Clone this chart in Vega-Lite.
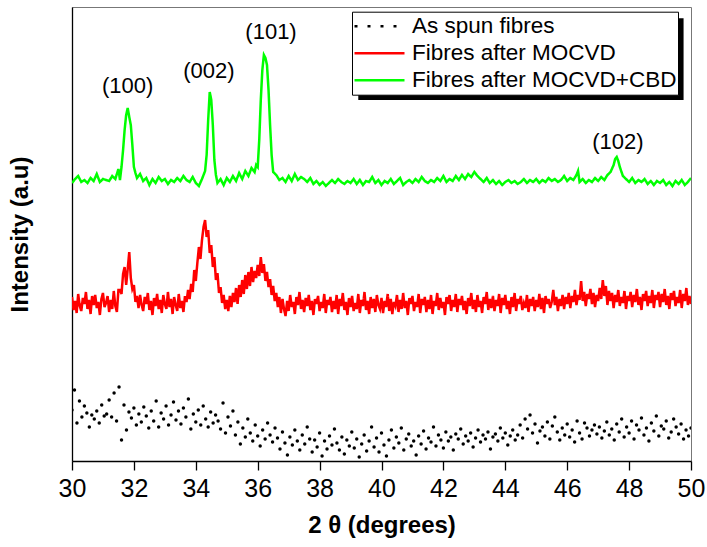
{
"$schema":"https://vega.github.io/schema/vega-lite/v6.json",
"width":619,"height":454,
"autosize":{"type":"none"},
"padding":{"left":72,"top":7,"right":16,"bottom":86},
"background":"white",
"config":{"view":{"stroke":"#777","strokeWidth":1},"font":"Liberation Sans",
"axis":{"labelFont":"Liberation Sans","titleFont":"Liberation Sans","domainColor":"#000","tickColor":"#000","labelColor":"#000","titleColor":"#000","grid":false,"domainWidth":1.3,"tickWidth":1.3}},
"datasets":{
"g":[{"x":30.0,"y":302},{"x":30.1,"y":306},{"x":30.2,"y":309},{"x":30.3,"y":303},{"x":30.4,"y":305},{"x":30.5,"y":302},{"x":30.6,"y":307},{"x":30.7,"y":304},{"x":30.8,"y":311},{"x":30.9,"y":303},{"x":31.0,"y":306},{"x":31.1,"y":305},{"x":31.2,"y":304},{"x":31.3,"y":309},{"x":31.4,"y":306},{"x":31.5,"y":316},{"x":31.55,"y":305},{"x":31.6,"y":318},{"x":31.65,"y":335},{"x":31.7,"y":355},{"x":31.75,"y":370},{"x":31.8,"y":377},{"x":31.85,"y":368},{"x":31.9,"y":360},{"x":31.95,"y":340},{"x":32.0,"y":318},{"x":32.05,"y":312},{"x":32.1,"y":307},{"x":32.2,"y":311},{"x":32.3,"y":304},{"x":32.4,"y":307},{"x":32.5,"y":300},{"x":32.6,"y":306},{"x":32.7,"y":302},{"x":32.8,"y":308},{"x":32.9,"y":304},{"x":33.0,"y":306},{"x":33.1,"y":301},{"x":33.2,"y":305},{"x":33.3,"y":303},{"x":33.4,"y":307},{"x":33.5,"y":304},{"x":33.6,"y":309},{"x":33.7,"y":305},{"x":33.8,"y":303},{"x":33.9,"y":308},{"x":34.0,"y":302},{"x":34.1,"y":299},{"x":34.2,"y":306},{"x":34.3,"y":314},{"x":34.35,"y":330},{"x":34.4,"y":365},{"x":34.45,"y":393},{"x":34.5,"y":385},{"x":34.55,"y":360},{"x":34.6,"y":325},{"x":34.65,"y":310},{"x":34.7,"y":302},{"x":34.8,"y":306},{"x":34.9,"y":300},{"x":35.0,"y":307},{"x":35.1,"y":303},{"x":35.2,"y":309},{"x":35.3,"y":304},{"x":35.4,"y":312},{"x":35.5,"y":306},{"x":35.6,"y":314},{"x":35.7,"y":309},{"x":35.8,"y":317},{"x":35.9,"y":313},{"x":35.95,"y":320},{"x":36.0,"y":318},{"x":36.05,"y":345},{"x":36.1,"y":385},{"x":36.15,"y":415},{"x":36.2,"y":430},{"x":36.25,"y":427},{"x":36.3,"y":420},{"x":36.35,"y":395},{"x":36.4,"y":360},{"x":36.45,"y":330},{"x":36.5,"y":313},{"x":36.6,"y":310},{"x":36.7,"y":305},{"x":36.8,"y":307},{"x":36.9,"y":303},{"x":37.0,"y":309},{"x":37.1,"y":304},{"x":37.2,"y":311},{"x":37.3,"y":305},{"x":37.4,"y":308},{"x":37.5,"y":306},{"x":37.6,"y":303},{"x":37.7,"y":307},{"x":37.8,"y":301},{"x":37.9,"y":304},{"x":38.0,"y":300},{"x":38.1,"y":303},{"x":38.2,"y":299},{"x":38.3,"y":302},{"x":38.4,"y":305},{"x":38.5,"y":302},{"x":38.6,"y":306},{"x":38.7,"y":303},{"x":38.8,"y":301},{"x":38.9,"y":304},{"x":39.0,"y":302},{"x":39.1,"y":306},{"x":39.2,"y":301},{"x":39.3,"y":305},{"x":39.4,"y":300},{"x":39.5,"y":304},{"x":39.6,"y":303},{"x":39.7,"y":308},{"x":39.8,"y":302},{"x":39.9,"y":305},{"x":40.0,"y":300},{"x":40.1,"y":304},{"x":40.2,"y":302},{"x":40.3,"y":306},{"x":40.4,"y":301},{"x":40.5,"y":304},{"x":40.6,"y":307},{"x":40.7,"y":300},{"x":40.8,"y":303},{"x":40.9,"y":305},{"x":41.0,"y":302},{"x":41.1,"y":306},{"x":41.2,"y":303},{"x":41.3,"y":308},{"x":41.4,"y":304},{"x":41.5,"y":302},{"x":41.6,"y":305},{"x":41.7,"y":303},{"x":41.8,"y":307},{"x":41.9,"y":304},{"x":42.0,"y":309},{"x":42.1,"y":303},{"x":42.2,"y":306},{"x":42.3,"y":304},{"x":42.4,"y":309},{"x":42.5,"y":305},{"x":42.6,"y":310},{"x":42.7,"y":306},{"x":42.8,"y":311},{"x":42.9,"y":308},{"x":43.0,"y":313},{"x":43.1,"y":309},{"x":43.2,"y":306},{"x":43.3,"y":303},{"x":43.4,"y":307},{"x":43.5,"y":302},{"x":43.6,"y":305},{"x":43.7,"y":301},{"x":43.8,"y":304},{"x":43.9,"y":300},{"x":44.0,"y":303},{"x":44.1,"y":305},{"x":44.2,"y":302},{"x":44.3,"y":304},{"x":44.4,"y":301},{"x":44.5,"y":303},{"x":44.6,"y":306},{"x":44.7,"y":302},{"x":44.8,"y":305},{"x":44.9,"y":303},{"x":45.0,"y":306},{"x":45.1,"y":302},{"x":45.2,"y":305},{"x":45.3,"y":303},{"x":45.4,"y":307},{"x":45.5,"y":304},{"x":45.6,"y":306},{"x":45.7,"y":303},{"x":45.8,"y":305},{"x":45.9,"y":309},{"x":46.0,"y":304},{"x":46.1,"y":307},{"x":46.2,"y":305},{"x":46.3,"y":310},{"x":46.35,"y":314},{"x":46.4,"y":303},{"x":46.5,"y":306},{"x":46.6,"y":302},{"x":46.7,"y":305},{"x":46.8,"y":303},{"x":46.9,"y":307},{"x":47.0,"y":304},{"x":47.1,"y":308},{"x":47.2,"y":305},{"x":47.3,"y":310},{"x":47.4,"y":313},{"x":47.5,"y":320},{"x":47.55,"y":326},{"x":47.6,"y":328},{"x":47.65,"y":324},{"x":47.7,"y":318},{"x":47.8,"y":309},{"x":47.9,"y":306},{"x":48.0,"y":303},{"x":48.1,"y":307},{"x":48.2,"y":302},{"x":48.3,"y":305},{"x":48.4,"y":303},{"x":48.5,"y":306},{"x":48.6,"y":301},{"x":48.7,"y":304},{"x":48.8,"y":300},{"x":48.9,"y":304},{"x":49.0,"y":302},{"x":49.1,"y":305},{"x":49.2,"y":300},{"x":49.3,"y":303},{"x":49.4,"y":299},{"x":49.5,"y":304},{"x":49.6,"y":301},{"x":49.7,"y":305},{"x":49.8,"y":300},{"x":49.9,"y":303},{"x":50.0,"y":307}],
"r":[{"x":30.00,"y":188},{"x":30.05,"y":175},{"x":30.10,"y":184},{"x":30.15,"y":172},{"x":30.20,"y":191},{"x":30.25,"y":179},{"x":30.30,"y":174},{"x":30.35,"y":187},{"x":30.40,"y":181},{"x":30.45,"y":193},{"x":30.50,"y":176},{"x":30.55,"y":185},{"x":30.60,"y":171},{"x":30.65,"y":189},{"x":30.70,"y":180},{"x":30.75,"y":190},{"x":30.80,"y":177},{"x":30.85,"y":183},{"x":30.90,"y":170},{"x":30.95,"y":186},{"x":31.00,"y":192},{"x":31.05,"y":178},{"x":31.10,"y":182},{"x":31.15,"y":189},{"x":31.20,"y":173},{"x":31.25,"y":185},{"x":31.30,"y":176},{"x":31.35,"y":194},{"x":31.40,"y":179},{"x":31.45,"y":173},{"x":31.50,"y":195},{"x":31.55,"y":195},{"x":31.60,"y":191},{"x":31.65,"y":211},{"x":31.70,"y":218},{"x":31.75,"y":200},{"x":31.80,"y":216},{"x":31.85,"y":233},{"x":31.90,"y":207},{"x":31.95,"y":196},{"x":32.00,"y":200},{"x":32.05,"y":183},{"x":32.10,"y":189},{"x":32.15,"y":177},{"x":32.20,"y":190},{"x":32.25,"y":180},{"x":32.30,"y":174},{"x":32.35,"y":188},{"x":32.40,"y":181},{"x":32.45,"y":192},{"x":32.50,"y":175},{"x":32.55,"y":184},{"x":32.60,"y":170},{"x":32.65,"y":187},{"x":32.70,"y":179},{"x":32.75,"y":191},{"x":32.80,"y":176},{"x":32.85,"y":185},{"x":32.90,"y":172},{"x":32.95,"y":190},{"x":33.00,"y":181},{"x":33.05,"y":176},{"x":33.10,"y":193},{"x":33.15,"y":178},{"x":33.20,"y":186},{"x":33.25,"y":171},{"x":33.30,"y":188},{"x":33.35,"y":180},{"x":33.40,"y":174},{"x":33.45,"y":191},{"x":33.50,"y":177},{"x":33.55,"y":184},{"x":33.60,"y":173},{"x":33.65,"y":189},{"x":33.70,"y":183},{"x":33.75,"y":195},{"x":33.80,"y":186},{"x":33.85,"y":201},{"x":33.90,"y":193},{"x":33.95,"y":215},{"x":34.00,"y":204},{"x":34.05,"y":222},{"x":34.10,"y":238},{"x":34.15,"y":226},{"x":34.20,"y":245},{"x":34.25,"y":258},{"x":34.30,"y":265},{"x":34.35,"y":248},{"x":34.40,"y":255},{"x":34.45,"y":232},{"x":34.50,"y":240},{"x":34.55,"y":218},{"x":34.60,"y":228},{"x":34.65,"y":205},{"x":34.70,"y":212},{"x":34.75,"y":192},{"x":34.80,"y":198},{"x":34.85,"y":182},{"x":34.90,"y":190},{"x":34.95,"y":176},{"x":35.00,"y":185},{"x":35.05,"y":174},{"x":35.10,"y":189},{"x":35.15,"y":178},{"x":35.20,"y":192},{"x":35.25,"y":183},{"x":35.30,"y":197},{"x":35.35,"y":181},{"x":35.40,"y":200},{"x":35.45,"y":188},{"x":35.50,"y":205},{"x":35.55,"y":191},{"x":35.60,"y":210},{"x":35.65,"y":196},{"x":35.70,"y":213},{"x":35.75,"y":199},{"x":35.80,"y":218},{"x":35.85,"y":203},{"x":35.90,"y":214},{"x":35.95,"y":207},{"x":36.00,"y":220},{"x":36.05,"y":209},{"x":36.10,"y":228},{"x":36.15,"y":212},{"x":36.20,"y":221},{"x":36.25,"y":204},{"x":36.30,"y":213},{"x":36.35,"y":198},{"x":36.40,"y":206},{"x":36.45,"y":190},{"x":36.50,"y":199},{"x":36.55,"y":184},{"x":36.60,"y":192},{"x":36.65,"y":178},{"x":36.70,"y":188},{"x":36.75,"y":172},{"x":36.80,"y":186},{"x":36.85,"y":176},{"x":36.90,"y":169},{"x":36.95,"y":184},{"x":37.00,"y":174},{"x":37.05,"y":190},{"x":37.10,"y":178},{"x":37.15,"y":183},{"x":37.20,"y":171},{"x":37.25,"y":188},{"x":37.30,"y":180},{"x":37.35,"y":193},{"x":37.40,"y":176},{"x":37.45,"y":185},{"x":37.50,"y":173},{"x":37.55,"y":187},{"x":37.60,"y":179},{"x":37.65,"y":190},{"x":37.70,"y":175},{"x":37.75,"y":184},{"x":37.80,"y":170},{"x":37.85,"y":186},{"x":37.90,"y":181},{"x":37.95,"y":189},{"x":38.00,"y":174},{"x":38.05,"y":183},{"x":38.10,"y":177},{"x":38.15,"y":191},{"x":38.20,"y":172},{"x":38.25,"y":185},{"x":38.30,"y":180},{"x":38.35,"y":188},{"x":38.40,"y":173},{"x":38.45,"y":184},{"x":38.50,"y":176},{"x":38.55,"y":190},{"x":38.60,"y":171},{"x":38.65,"y":186},{"x":38.70,"y":179},{"x":38.75,"y":192},{"x":38.80,"y":175},{"x":38.85,"y":183},{"x":38.90,"y":170},{"x":38.95,"y":187},{"x":39.00,"y":178},{"x":39.05,"y":189},{"x":39.10,"y":174},{"x":39.15,"y":182},{"x":39.20,"y":176},{"x":39.25,"y":191},{"x":39.30,"y":172},{"x":39.35,"y":185},{"x":39.40,"y":179},{"x":39.45,"y":193},{"x":39.50,"y":175},{"x":39.55,"y":184},{"x":39.60,"y":171},{"x":39.65,"y":188},{"x":39.70,"y":177},{"x":39.75,"y":186},{"x":39.80,"y":173},{"x":39.85,"y":190},{"x":39.90,"y":180},{"x":39.95,"y":176},{"x":40.00,"y":187},{"x":40.05,"y":172},{"x":40.10,"y":184},{"x":40.15,"y":178},{"x":40.20,"y":191},{"x":40.25,"y":174},{"x":40.30,"y":186},{"x":40.35,"y":171},{"x":40.40,"y":183},{"x":40.45,"y":179},{"x":40.50,"y":190},{"x":40.55,"y":173},{"x":40.60,"y":185},{"x":40.65,"y":176},{"x":40.70,"y":192},{"x":40.75,"y":177},{"x":40.80,"y":184},{"x":40.85,"y":170},{"x":40.90,"y":187},{"x":40.95,"y":181},{"x":41.00,"y":189},{"x":41.05,"y":174},{"x":41.10,"y":183},{"x":41.15,"y":178},{"x":41.20,"y":191},{"x":41.25,"y":172},{"x":41.30,"y":186},{"x":41.35,"y":180},{"x":41.40,"y":188},{"x":41.45,"y":173},{"x":41.50,"y":185},{"x":41.55,"y":176},{"x":41.60,"y":190},{"x":41.65,"y":171},{"x":41.70,"y":184},{"x":41.75,"y":179},{"x":41.80,"y":192},{"x":41.85,"y":175},{"x":41.90,"y":187},{"x":41.95,"y":177},{"x":42.00,"y":183},{"x":42.05,"y":170},{"x":42.10,"y":188},{"x":42.15,"y":181},{"x":42.20,"y":190},{"x":42.25,"y":174},{"x":42.30,"y":185},{"x":42.35,"y":178},{"x":42.40,"y":191},{"x":42.45,"y":173},{"x":42.50,"y":186},{"x":42.55,"y":180},{"x":42.60,"y":189},{"x":42.65,"y":175},{"x":42.70,"y":184},{"x":42.75,"y":171},{"x":42.80,"y":187},{"x":42.85,"y":179},{"x":42.90,"y":192},{"x":42.95,"y":176},{"x":43.00,"y":185},{"x":43.05,"y":173},{"x":43.10,"y":190},{"x":43.15,"y":178},{"x":43.20,"y":184},{"x":43.25,"y":172},{"x":43.30,"y":188},{"x":43.35,"y":181},{"x":43.40,"y":193},{"x":43.45,"y":175},{"x":43.50,"y":186},{"x":43.55,"y":177},{"x":43.60,"y":189},{"x":43.65,"y":174},{"x":43.70,"y":185},{"x":43.75,"y":179},{"x":43.80,"y":191},{"x":43.85,"y":172},{"x":43.90,"y":187},{"x":43.95,"y":180},{"x":44.00,"y":190},{"x":44.05,"y":176},{"x":44.10,"y":184},{"x":44.15,"y":171},{"x":44.20,"y":188},{"x":44.25,"y":178},{"x":44.30,"y":192},{"x":44.35,"y":174},{"x":44.40,"y":186},{"x":44.45,"y":181},{"x":44.50,"y":189},{"x":44.55,"y":175},{"x":44.60,"y":182},{"x":44.65,"y":177},{"x":44.70,"y":190},{"x":44.75,"y":173},{"x":44.80,"y":186},{"x":44.85,"y":179},{"x":44.90,"y":188},{"x":44.95,"y":174},{"x":45.00,"y":185},{"x":45.05,"y":178},{"x":45.10,"y":191},{"x":45.15,"y":176},{"x":45.20,"y":187},{"x":45.25,"y":172},{"x":45.30,"y":189},{"x":45.35,"y":181},{"x":45.40,"y":186},{"x":45.45,"y":177},{"x":45.50,"y":183},{"x":45.55,"y":195},{"x":45.60,"y":180},{"x":45.65,"y":188},{"x":45.70,"y":174},{"x":45.75,"y":186},{"x":45.80,"y":179},{"x":45.85,"y":190},{"x":45.90,"y":176},{"x":45.95,"y":188},{"x":46.00,"y":181},{"x":46.05,"y":192},{"x":46.10,"y":177},{"x":46.15,"y":189},{"x":46.20,"y":183},{"x":46.25,"y":195},{"x":46.30,"y":180},{"x":46.35,"y":190},{"x":46.40,"y":185},{"x":46.45,"y":204},{"x":46.50,"y":184},{"x":46.55,"y":193},{"x":46.60,"y":179},{"x":46.65,"y":191},{"x":46.70,"y":186},{"x":46.75,"y":196},{"x":46.80,"y":181},{"x":46.85,"y":192},{"x":46.90,"y":178},{"x":46.95,"y":190},{"x":47.00,"y":184},{"x":47.05,"y":197},{"x":47.10,"y":186},{"x":47.15,"y":205},{"x":47.20,"y":189},{"x":47.25,"y":199},{"x":47.30,"y":180},{"x":47.35,"y":194},{"x":47.40,"y":184},{"x":47.45,"y":192},{"x":47.50,"y":177},{"x":47.55,"y":190},{"x":47.60,"y":183},{"x":47.65,"y":195},{"x":47.70,"y":179},{"x":47.75,"y":188},{"x":47.80,"y":182},{"x":47.85,"y":194},{"x":47.90,"y":176},{"x":47.95,"y":189},{"x":48.00,"y":184},{"x":48.05,"y":193},{"x":48.10,"y":178},{"x":48.15,"y":190},{"x":48.20,"y":183},{"x":48.25,"y":196},{"x":48.30,"y":180},{"x":48.35,"y":188},{"x":48.40,"y":175},{"x":48.45,"y":191},{"x":48.50,"y":184},{"x":48.55,"y":194},{"x":48.60,"y":179},{"x":48.65,"y":189},{"x":48.70,"y":182},{"x":48.75,"y":195},{"x":48.80,"y":177},{"x":48.85,"y":190},{"x":48.90,"y":185},{"x":48.95,"y":193},{"x":49.00,"y":178},{"x":49.05,"y":191},{"x":49.10,"y":183},{"x":49.15,"y":196},{"x":49.20,"y":180},{"x":49.25,"y":189},{"x":49.30,"y":176},{"x":49.35,"y":192},{"x":49.40,"y":185},{"x":49.45,"y":194},{"x":49.50,"y":179},{"x":49.55,"y":188},{"x":49.60,"y":182},{"x":49.65,"y":195},{"x":49.70,"y":177},{"x":49.75,"y":191},{"x":49.80,"y":184},{"x":49.85,"y":197},{"x":49.90,"y":180},{"x":49.95,"y":189},{"x":50.00,"y":181}],
"k":[{"x":30.00,"y":75},{"x":30.08,"y":95},{"x":30.16,"y":62},{"x":30.24,"y":84},{"x":30.32,"y":68},{"x":30.40,"y":79},{"x":30.48,"y":72},{"x":30.56,"y":58},{"x":30.64,"y":70},{"x":30.72,"y":66},{"x":30.80,"y":74},{"x":30.88,"y":62},{"x":30.96,"y":80},{"x":31.04,"y":69},{"x":31.12,"y":71},{"x":31.20,"y":85},{"x":31.28,"y":68},{"x":31.36,"y":92},{"x":31.44,"y":64},{"x":31.52,"y":98},{"x":31.60,"y":45},{"x":31.68,"y":80},{"x":31.76,"y":55},{"x":31.84,"y":73},{"x":31.92,"y":67},{"x":32.00,"y":77},{"x":32.08,"y":60},{"x":32.16,"y":71},{"x":32.24,"y":63},{"x":32.32,"y":78},{"x":32.40,"y":69},{"x":32.48,"y":57},{"x":32.56,"y":74},{"x":32.64,"y":64},{"x":32.72,"y":84},{"x":32.80,"y":58},{"x":32.88,"y":72},{"x":32.96,"y":66},{"x":33.04,"y":79},{"x":33.12,"y":60},{"x":33.20,"y":70},{"x":33.28,"y":83},{"x":33.36,"y":65},{"x":33.44,"y":74},{"x":33.52,"y":61},{"x":33.60,"y":77},{"x":33.68,"y":68},{"x":33.76,"y":86},{"x":33.84,"y":56},{"x":33.92,"y":71},{"x":34.00,"y":63},{"x":34.08,"y":75},{"x":34.16,"y":60},{"x":34.24,"y":79},{"x":34.32,"y":66},{"x":34.40,"y":58},{"x":34.48,"y":73},{"x":34.56,"y":62},{"x":34.64,"y":70},{"x":34.72,"y":64},{"x":34.80,"y":56},{"x":34.88,"y":82},{"x":34.96,"y":52},{"x":35.04,"y":68},{"x":35.12,"y":59},{"x":35.20,"y":74},{"x":35.28,"y":50},{"x":35.36,"y":63},{"x":35.44,"y":41},{"x":35.52,"y":57},{"x":35.60,"y":48},{"x":35.68,"y":66},{"x":35.76,"y":52},{"x":35.84,"y":44},{"x":35.92,"y":60},{"x":36.00,"y":49},{"x":36.08,"y":39},{"x":36.16,"y":55},{"x":36.24,"y":46},{"x":36.32,"y":62},{"x":36.40,"y":50},{"x":36.48,"y":43},{"x":36.56,"y":57},{"x":36.64,"y":47},{"x":36.72,"y":36},{"x":36.80,"y":53},{"x":36.88,"y":42},{"x":36.96,"y":30},{"x":37.04,"y":48},{"x":37.12,"y":40},{"x":37.20,"y":55},{"x":37.28,"y":44},{"x":37.36,"y":35},{"x":37.44,"y":50},{"x":37.52,"y":41},{"x":37.60,"y":58},{"x":37.68,"y":46},{"x":37.76,"y":33},{"x":37.84,"y":45},{"x":37.92,"y":38},{"x":38.00,"y":52},{"x":38.08,"y":29},{"x":38.16,"y":44},{"x":38.24,"y":36},{"x":38.32,"y":49},{"x":38.40,"y":40},{"x":38.48,"y":56},{"x":38.56,"y":42},{"x":38.64,"y":35},{"x":38.72,"y":48},{"x":38.80,"y":31},{"x":38.88,"y":45},{"x":38.96,"y":39},{"x":39.04,"y":53},{"x":39.12,"y":37},{"x":39.20,"y":46},{"x":39.28,"y":28},{"x":39.36,"y":41},{"x":39.44,"y":50},{"x":39.52,"y":34},{"x":39.60,"y":44},{"x":39.68,"y":58},{"x":39.76,"y":38},{"x":39.84,"y":47},{"x":39.92,"y":33},{"x":40.00,"y":52},{"x":40.08,"y":40},{"x":40.16,"y":29},{"x":40.24,"y":45},{"x":40.32,"y":55},{"x":40.40,"y":37},{"x":40.48,"y":48},{"x":40.56,"y":42},{"x":40.64,"y":57},{"x":40.72,"y":35},{"x":40.80,"y":46},{"x":40.88,"y":51},{"x":40.96,"y":39},{"x":41.04,"y":44},{"x":41.12,"y":30},{"x":41.20,"y":49},{"x":41.28,"y":41},{"x":41.36,"y":54},{"x":41.44,"y":36},{"x":41.52,"y":47},{"x":41.60,"y":43},{"x":41.68,"y":58},{"x":41.76,"y":39},{"x":41.84,"y":50},{"x":41.92,"y":45},{"x":42.00,"y":37},{"x":42.08,"y":53},{"x":42.16,"y":44},{"x":42.24,"y":48},{"x":42.32,"y":35},{"x":42.40,"y":51},{"x":42.48,"y":46},{"x":42.56,"y":56},{"x":42.64,"y":41},{"x":42.72,"y":49},{"x":42.80,"y":44},{"x":42.88,"y":52},{"x":42.96,"y":38},{"x":43.04,"y":47},{"x":43.12,"y":55},{"x":43.20,"y":43},{"x":43.28,"y":50},{"x":43.36,"y":46},{"x":43.44,"y":53},{"x":43.52,"y":36},{"x":43.60,"y":48},{"x":43.68,"y":51},{"x":43.76,"y":44},{"x":43.84,"y":57},{"x":43.92,"y":47},{"x":44.00,"y":52},{"x":44.08,"y":40},{"x":44.16,"y":49},{"x":44.24,"y":55},{"x":44.32,"y":45},{"x":44.40,"y":50},{"x":44.48,"y":60},{"x":44.56,"y":47},{"x":44.64,"y":66},{"x":44.72,"y":56},{"x":44.80,"y":70},{"x":44.88,"y":52},{"x":44.96,"y":61},{"x":45.04,"y":42},{"x":45.12,"y":54},{"x":45.20,"y":58},{"x":45.28,"y":49},{"x":45.36,"y":63},{"x":45.44,"y":46},{"x":45.52,"y":59},{"x":45.60,"y":68},{"x":45.68,"y":53},{"x":45.76,"y":45},{"x":45.84,"y":57},{"x":45.92,"y":50},{"x":46.00,"y":61},{"x":46.08,"y":48},{"x":46.16,"y":55},{"x":46.24,"y":43},{"x":46.32,"y":64},{"x":46.40,"y":52},{"x":46.48,"y":46},{"x":46.56,"y":62},{"x":46.64,"y":57},{"x":46.72,"y":49},{"x":46.80,"y":55},{"x":46.88,"y":60},{"x":46.96,"y":51},{"x":47.04,"y":58},{"x":47.12,"y":47},{"x":47.20,"y":54},{"x":47.28,"y":63},{"x":47.36,"y":50},{"x":47.44,"y":56},{"x":47.52,"y":45},{"x":47.60,"y":61},{"x":47.68,"y":53},{"x":47.76,"y":66},{"x":47.84,"y":48},{"x":47.92,"y":58},{"x":48.00,"y":52},{"x":48.08,"y":64},{"x":48.16,"y":46},{"x":48.24,"y":60},{"x":48.32,"y":55},{"x":48.40,"y":67},{"x":48.48,"y":50},{"x":48.56,"y":57},{"x":48.64,"y":44},{"x":48.72,"y":62},{"x":48.80,"y":54},{"x":48.88,"y":69},{"x":48.96,"y":49},{"x":49.04,"y":59},{"x":49.12,"y":56},{"x":49.20,"y":64},{"x":49.28,"y":47},{"x":49.36,"y":53},{"x":49.44,"y":66},{"x":49.52,"y":58},{"x":49.60,"y":51},{"x":49.68,"y":61},{"x":49.76,"y":46},{"x":49.84,"y":55},{"x":49.92,"y":49},{"x":50.00,"y":57}],
"lab":[{"x":31.8,"y":399,"t":"(100)"},{"x":34.42,"y":414,"t":"(002)"},{"x":36.43,"y":453,"t":"(101)"},{"x":47.64,"y":343,"t":"(102)"}]
},
"layer":[
{"data":{"values":[{}]},"mark":{"type":"rect","color":"#000"},
"encoding":{"x":{"datum":39.25,"type":"quantitative","scale":{"domain":[30,50],"nice":false,"zero":false}},"x2":{"datum":49.76},"y":{"datum":466.7,"type":"quantitative","scale":{"domain":[24,478],"nice":false,"zero":false}},"y2":{"datum":385}}},
{"data":{"name":"k"},"mark":{"type":"point","filled":true,"size":12,"opacity":1,"clip":true},
"encoding":{"x":{"field":"x","type":"quantitative","scale":{"domain":[30,50],"nice":false,"zero":false},"axis":{"values":[30,31,32,33,34,35,36,37,38,39,40,41,42,43,44,45,46,47,48,49,50],"labelExpr":"datum.value % 2 == 0 ? datum.label : ''","tickSize":{"condition":{"test":"datum.value % 2 == 0","value":9},"value":5},"labelFlush":false,"labelOverlap":false,"labelFontSize":25,"labelPadding":6,"title":"2 θ (degrees)","titleFontSize":24,"titleFontWeight":"bold","titlePadding":12}},
"y":{"field":"y","type":"quantitative","scale":{"domain":[24,478],"nice":false,"zero":false},"axis":{"title":"Intensity (a.u)","labels":false,"ticks":false,"domain":true,"titleFontSize":24,"titleFontWeight":"bold","titlePadding":40}},
"color":{"datum":"As spun fibres","type":"nominal","scale":{"domain":["As spun fibres","Fibres after MOCVD","Fibres after MOCVD+CBD"],"range":["#000000","#ff0000","#00ff00"]},
"legend":{"title":null,"orient":"none","legendX":280,"legendY":4.7,"symbolType":"stroke","symbolSize":2500,"symbolStrokeWidth":2.5,"labelFontSize":22.5,"labelFont":"Liberation Sans","labelColor":"#000","labelLimit":400,"rowPadding":0,"clipHeight":27,"padding":1,"strokeColor":"#000","fillColor":"#fff","labelOffset":6}},
"strokeDash":{"datum":"As spun fibres","type":"nominal","scale":{"domain":["As spun fibres","Fibres after MOCVD","Fibres after MOCVD+CBD"],"range":[[3,10],[1,0],[1,0]]},
"legend":{"title":null,"orient":"none","legendX":280,"legendY":4.7,"symbolType":"stroke","symbolSize":2500,"symbolStrokeWidth":2.5,"labelFontSize":22.5,"labelFont":"Liberation Sans","labelColor":"#000","labelLimit":400,"rowPadding":0,"clipHeight":27,"padding":1,"strokeColor":"#000","fillColor":"#fff","labelOffset":6}}}},
{"data":{"name":"r"},"mark":{"type":"line","strokeWidth":2.5,"clip":true},
"encoding":{"x":{"field":"x","type":"quantitative"},
"y":{"field":"y","type":"quantitative"},
"color":{"datum":"Fibres after MOCVD","type":"nominal"},
"strokeDash":{"datum":"Fibres after MOCVD","type":"nominal"}}},
{"data":{"name":"g"},"mark":{"type":"line","strokeWidth":2.5,"clip":true},
"encoding":{"x":{"field":"x","type":"quantitative"},"y":{"field":"y","type":"quantitative"},
"color":{"datum":"Fibres after MOCVD+CBD","type":"nominal"},
"strokeDash":{"datum":"Fibres after MOCVD+CBD","type":"nominal"}}},
{"data":{"name":"lab"},"mark":{"type":"text","fontSize":22,"font":"Liberation Sans","color":"#000","align":"center","baseline":"middle"},
"encoding":{"x":{"field":"x","type":"quantitative"},"y":{"field":"y","type":"quantitative"},"text":{"field":"t"}}}
]
}
